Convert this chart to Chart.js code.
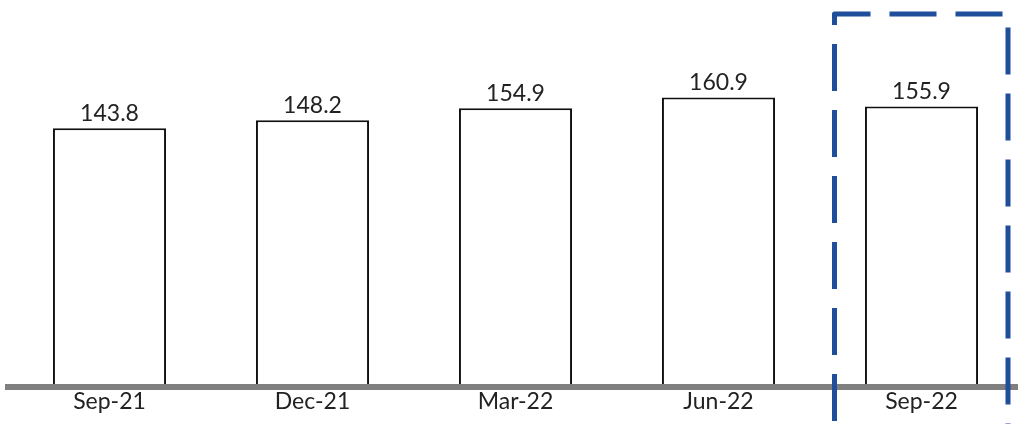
<!DOCTYPE html>
<html>
<head>
<meta charset="utf-8">
<script src="https://cdn.jsdelivr.net/npm/chart.js@4/dist/chart.umd.min.js"></script>
<style>
    html, body { margin: 0; padding: 0; background: #fff; overflow: hidden; }
    .chartbox { width: 1023px; height: 424px; }
</style>
</head>
<body>
<div class="chartbox"><canvas id="quarters"></canvas></div>
<script>
const quarters = ["Sep-21", "Dec-21", "Mar-22", "Jun-22", "Sep-22"];
const values = [143.8, 148.2, 154.9, 160.9, 155.9];
const highlightIndex = 4;

const FONT = "Lato, 'Noto Sans', sans-serif";

// value printed above each bar
const valueLabels = {
    id: 'valueLabels',
    afterDatasetsDraw(chart) {
        const { ctx } = chart;
        const meta = chart.getDatasetMeta(0);
        ctx.save();
        ctx.font = "23px " + FONT;
        ctx.fillStyle = "#222";
        ctx.textAlign = "center";
        ctx.textBaseline = "alphabetic";
        meta.data.forEach((bar, i) => {
            ctx.fillText(values[i].toFixed(1), bar.x, bar.y - 7);
        });
        ctx.restore();
    }
};

// dashed frame round the latest quarter
const highlightBox = {
    id: 'highlightBox',
    afterDraw(chart) {
        const { ctx } = chart;
        const x = chart.scales.x;
        const cx = x.getPixelForValue(highlightIndex);
        const left = cx - 87, right = cx + 86.5, top = 14, bottom = chart.height + 10;
        ctx.save();
        ctx.strokeStyle = "#1f4e9b";
        ctx.lineWidth = 5;
        ctx.lineJoin = "round";
        ctx.setLineDash([47, 19]);
        ctx.beginPath();
        ctx.moveTo(left, top + 11);
        ctx.lineTo(left, top);
        ctx.lineTo(right, top);
        ctx.lineTo(right, bottom);
        ctx.stroke();
        ctx.beginPath();
        ctx.moveTo(left, top + 30);
        ctx.lineTo(left, bottom);
        ctx.stroke();
        ctx.restore();
    }
};

document.addEventListener('DOMContentLoaded', () => {
    const ctx = document.getElementById("quarters").getContext("2d");
    new Chart(ctx, {
        type: "bar",
        data: {
            labels: quarters,
            datasets: [{
                data: values,
                backgroundColor: "#ffffff",
                borderColor: "#111111",
                borderWidth: 2,
                categoryPercentage: 1,
                barPercentage: 0.557,
            }]
        },
        options: {
            responsive: true,
            maintainAspectRatio: false,
            animation: false,
            layout: {
                padding: { left: 8, right: 0, top: 27, bottom: 7.4 },
            },
            plugins: {
                legend: { display: false },
                tooltip: { enabled: false },
            },
            scales: {
                x: {
                    grid: { display: false, drawTicks: false },
                    border: { display: true, color: "#808080", width: 6, z: 1 },
                    ticks: {
                        color: "#222",
                        padding: 1,
                        font: { family: FONT, size: 23 },
                    },
                },
                y: {
                    display: false,
                    min: 0,
                    max: 200,
                },
            },
        },
        plugins: [valueLabels, highlightBox],
    });
});
</script>
</body>
</html>
